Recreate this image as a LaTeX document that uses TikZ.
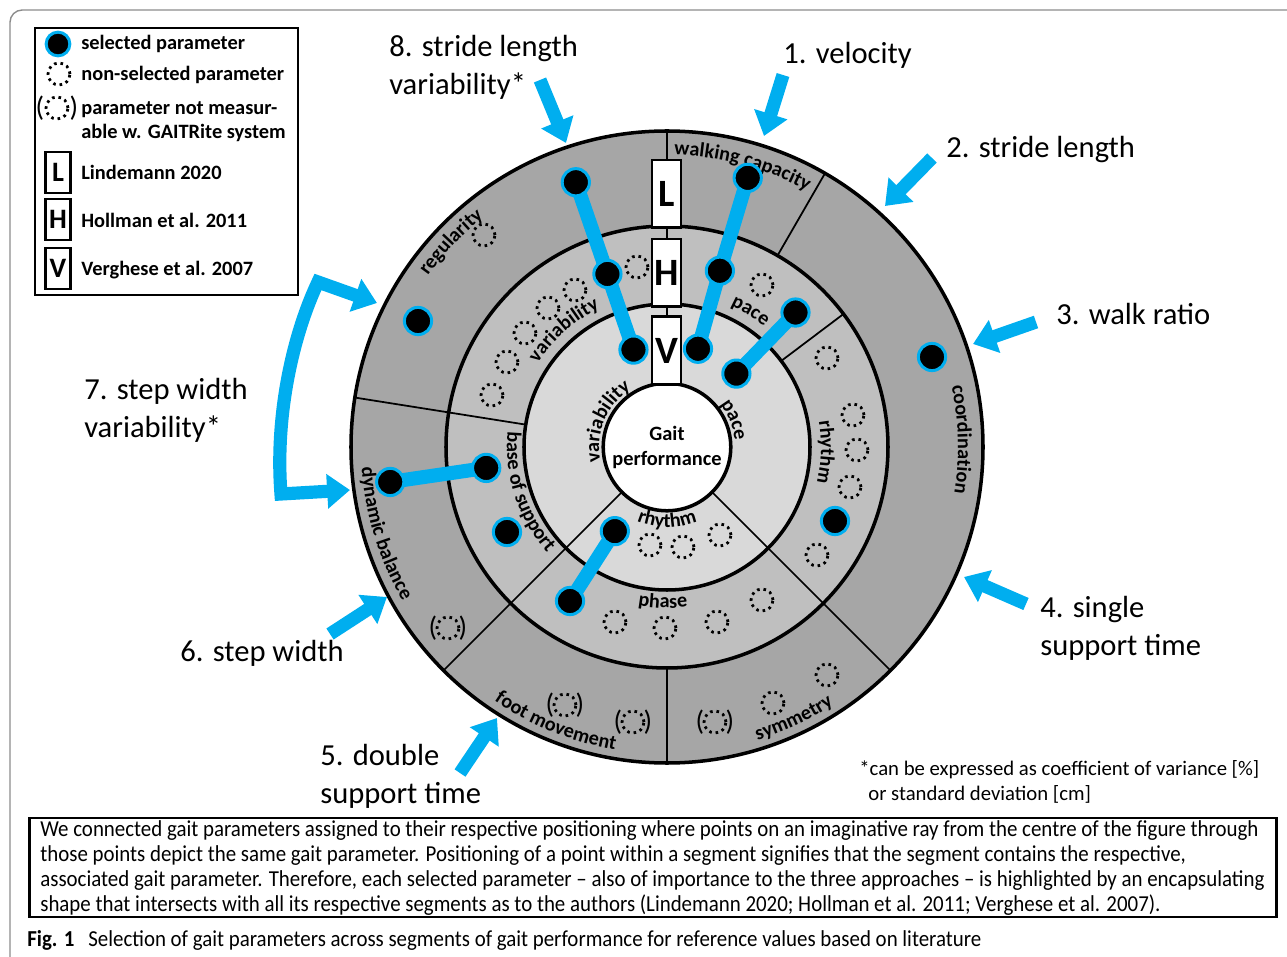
\documentclass[tikz,border=0pt]{standalone}
\usepackage{fontspec}
\setmainfont{Carlito}
\newfontfamily\capfont[FakeStretch=0.915]{Carlito}
\usetikzlibrary{arrows.meta,decorations.text}
\definecolor{gblue}{HTML}{00AEEF}
\definecolor{ringA}{HTML}{A6A6A6}
\definecolor{ringB}{HTML}{BFBFBF}
\definecolor{ringC}{HTML}{D9D9D9}
\definecolor{framegray}{HTML}{8C8C8C}
\newcommand\ringfont{\bfseries\fontsize{11.5}{13}\selectfont}
\newcommand\cwlabel[4]{\path[decorate,decoration={text along path,text align=center,text={|\ringfont|#4}}] (#1+#3:#2) arc[start angle=#1+#3,end angle=#1-#3,radius=#2];}
\newcommand\ccwlabel[4]{\path[decorate,decoration={text along path,text align=center,text={|\ringfont|#4}}] (#1-#3:#2) arc[start angle=#1-#3,end angle=#1+#3,radius=#2];}
\newcommand\nmeas[3]{\node[nsel] (#1) at (#2,#3) {};
  \node[par] (#1l) at (#2-15,#3) {(};
  \node[par] (#1r) at (#2+15,#3) {)};}
\begin{document}
\begin{tikzpicture}[x=0.02cm,y=0.02cm,
  sel/.style={circle,fill=black,draw=gblue,line width=1.7pt,minimum size=15.5pt,inner sep=0pt},
  nsel/.style={circle,draw=black,line width=1.6pt,dash pattern=on 1.5pt off 2.2pt,minimum size=12.5pt,inner sep=0pt},
  par/.style={inner sep=0pt,font=\fontsize{16}{16}\selectfont},
  bigbox/.style={draw=black,fill=white,line width=1.5pt,minimum width=16.4pt,minimum height=38.5pt,inner sep=0pt,font=\bfseries\fontsize{22}{22}\selectfont},
  smallbox/.style={draw=black,fill=white,line width=1.5pt,minimum width=14.2pt,minimum height=23.2pt,inner sep=0pt,font=\bfseries\fontsize{16}{16}\selectfont},
  bline/.style={gblue,line width=8pt},
  barrow/.style={gblue,line width=7.5pt,-{Triangle[width=19pt,length=13pt]}},
  lab/.style={anchor=base west,inner sep=0pt,font=\fontsize{17.4}{21}\selectfont},
  leg/.style={anchor=base west,inner sep=0pt,font=\bfseries\fontsize{11.6}{14}\selectfont},
  foot/.style={anchor=base west,inner sep=0pt,font=\fontsize{11.8}{14}\selectfont},
  capt/.style={anchor=base west,inner sep=0pt,font=\capfont\fontsize{13}{14}\selectfont},
  ring/.style={line width=2pt},
  divider/.style={line width=1pt}]
\useasboundingbox (-667,-509) rectangle (620,447);
% outer frame
\draw[framegray,line width=0.8pt,rounded corners=7pt] (-657,-540) -- (-657,437) -- (660,437);
% rings
\fill[ringA] (0,0) circle[radius=316];
\fill[ringB] (0,0) circle[radius=221];
\fill[ringC] (0,0) circle[radius=143];
% dividers
\draw[divider] (90:64) -- (90:316);
\draw[divider] (60:221) -- (60:316);
\draw[divider] (37:143) -- (37:221);
\draw[divider] (-45:64) -- (-45:316);
\draw[divider] (-90:221) -- (-90:316);
\draw[divider] (-135:64) -- (-135:316);
\draw[divider] (171:143) -- (171:316);
\draw[ring] (0,0) circle[radius=316];
\draw[ring] (0,0) circle[radius=221];
\draw[ring] (0,0) circle[radius=143];
\node[circle,draw=black,fill=white,line width=2pt,minimum size=72.6pt,inner sep=0pt,align=center,font=\bfseries\fontsize{11.6}{14.2}\selectfont] (gp) at (0,0) {Gait\\performance};
% ring labels
\cwlabel{136.5}{294}{25}{regularity}
\cwlabel{75}{292}{25}{walking capacity}
\cwlabel{1.5}{291}{25}{coordination}
\ccwlabel{-65}{307}{25}{symmetry}
\ccwlabel{-112}{307}{25}{foot movement}
\ccwlabel{197}{306}{25}{dynamic balance}
\cwlabel{131.5}{154}{40}{variability}
\cwlabel{58.5}{155}{40}{pace}
\cwlabel{-1.8}{154}{40}{rhythm}
\ccwlabel{198}{160}{40}{base of support}
\ccwlabel{-91.5}{161}{40}{phase}
\cwlabel{157}{68}{60}{variability}
\cwlabel{22}{68}{60}{pace}
\ccwlabel{-90}{80}{60}{rhythm}
% author boxes
\node[bigbox] (bL) at (-0.5,253) {L};
\node[bigbox] (bH) at (-0.5,174) {H};
\node[bigbox] (bV) at (-0.5,96.5) {V};
% selected parameter positions
\coordinate (c8a) at (109:280);
\coordinate (c8b) at (109:183);
\coordinate (c8c) at (109:103);
\coordinate (c1a) at (73.3:281);
\coordinate (c1b) at (73.3:184);
\coordinate (c1c) at (72.5:103);
\coordinate (cpa) at (46.3:186);
\coordinate (cpb) at (46.6:101);
\coordinate (cba) at (186.6:182);
\coordinate (cbb) at (187.2:279);
\coordinate (cra) at (238.2:99);
\coordinate (crb) at (237.8:182);
\draw[bline] (c8a) -- (c8b) -- (c8c);
\draw[bline] (c1a) -- (c1b) -- (c1c);
\draw[bline] (cpa) -- (cpb);
\draw[bline] (cba) -- (cbb);
\draw[bline] (cra) -- (crb);
\node[sel] (s8a) at (c8a) {};
\node[sel] (s8b) at (c8b) {};
\node[sel] (s8c) at (c8c) {};
\node[sel] (s1a) at (c1a) {};
\node[sel] (s1b) at (c1b) {};
\node[sel] (s1c) at (c1c) {};
\node[sel] (spa) at (cpa) {};
\node[sel] (spb) at (cpb) {};
\node[sel] (sba) at (cba) {};
\node[sel] (sbb) at (cbb) {};
\node[sel] (sra) at (cra) {};
\node[sel] (srb) at (crb) {};
\node[sel] (sreg) at (-249,126) {};
\node[sel] (scoo) at (265,90) {};
\node[sel] (sbos) at (-160,-85) {};
\node[sel] (srhy) at (168,-74) {};
% non-selected
\node[nsel] (d1) at (-183,212) {};
\node[nsel] (d2) at (-92,157) {};
\node[nsel] (d3) at (-119,139) {};
\node[nsel] (d4) at (-142,114) {};
\node[nsel] (d5) at (-160,85) {};
\node[nsel] (d6) at (-175,52) {};
\node[nsel] (d7) at (-30,180) {};
\node[nsel] (d8) at (95,162) {};
\node[nsel] (d9) at (160,89) {};
\node[nsel] (d10) at (186,32) {};
\node[nsel] (d11) at (190,-3) {};
\node[nsel] (d12) at (183,-40) {};
\node[nsel] (d13) at (150,-108) {};
\node[nsel] (d14) at (53,-88) {};
\node[nsel] (d15) at (16,-100) {};
\node[nsel] (d16) at (-17,-98) {};
\node[nsel] (d17) at (-52,-175) {};
\node[nsel] (d18) at (-2,-181) {};
\node[nsel] (d19) at (50,-175) {};
\node[nsel] (d20) at (95,-153) {};
\node[nsel] (d21) at (106,-256) {};
\node[nsel] (d22) at (160,-228) {};
\nmeas{n1}{-219}{-181}
\nmeas{n2}{-102}{-258}
\nmeas{n3}{-34}{-275}
\nmeas{n4}{48}{-275}
% arrows
\coordinate (a1s) at (116,372); \coordinate (a1e) at (97,311);
\coordinate (a2s) at (265,289); \coordinate (a2e) at (218,241);
\coordinate (a3s) at (369,125); \coordinate (a3e) at (306,103);
\coordinate (a4s) at (359,-157); \coordinate (a4e) at (297,-130);
\coordinate (a5s) at (-207,-326); \coordinate (a5e) at (-170,-271);
\coordinate (a6s) at (-337,-187); \coordinate (a6e) at (-280,-150);
\coordinate (a8s) at (-127,367); \coordinate (a8e) at (-101,304);
\draw[barrow] (a1s) -- (a1e);
\draw[barrow] (a2s) -- (a2e);
\draw[barrow] (a3s) -- (a3e);
\draw[barrow] (a4s) -- (a4e);
\draw[barrow] (a5s) -- (a5e);
\draw[barrow] (a6s) -- (a6e);
\draw[barrow] (a8s) -- (a8e);
\coordinate (a7t) at (-290,144); \coordinate (a7c) at (-349,165);
\coordinate (a7d) at (-386,-47); \coordinate (a7b) at (-317,-43);
\draw[gblue,line width=7.5pt,line join=miter,{Triangle[width=19pt,length=13pt]}-{Triangle[width=19pt,length=13pt]}] (a7t) -- (a7c) .. controls (-375,110) and (-392,30) .. (a7d) -- (a7b);
% numbered labels
\node[lab] (l1) at (116,383) {1. velocity};
\node[lab] (l2) at (279,289) {2. stride length};
\node[lab] (l3) at (389,122) {3. walk ratio};
\node[lab] (l4a) at (373,-170) {4. single};
\node[lab] (l4b) at (373,-208) {support time};
\node[lab] (l5a) at (-347,-318) {5. double};
\node[lab] (l5b) at (-347,-356) {support time};
\node[lab] (l6) at (-487,-214) {6. step width};
\node[lab] (l7a) at (-583,47) {7. step width};
\node[lab] (l7b) at (-583,9) {variability*};
\node[lab] (l8a) at (-278,390) {8. stride length};
\node[lab] (l8b) at (-278,352) {variability*};
% footnote
\node[foot] (f1) at (192,-328) {*can be expressed as coefficient of variance [\%]};
\node[foot] (f2) at (201,-353) {or standard deviation [cm]};
% legend
\draw[line width=1.5pt] (-632,419) rectangle (-369,152);
\node[sel,minimum size=13.5pt] (lgsel) at (-609,403) {};
\node[nsel] (lgns) at (-608,373) {};
\node[nsel] (lgnm) at (-610,339) {};
\node[par] (lgnml) at (-627,339) {(};
\node[par] (lgnmr) at (-593,339) {)};
\node[smallbox] (lgL) at (-609,274.5) {L};
\node[smallbox] (lgH) at (-609,227.5) {H};
\node[smallbox] (lgV) at (-609,178.5) {V};
\node[leg] (t1) at (-586,397) {selected parameter};
\node[leg] (t2) at (-586,366) {non-selected parameter};
\node[leg] (t3) at (-586,332) {parameter not measur-};
\node[leg] (t4) at (-586,308) {able w. GAITRite system};
\node[leg] (t5) at (-586,267) {Lindemann 2020};
\node[leg] (t6) at (-586,219) {Hollman et al. 2011};
\node[leg] (t7) at (-586,171) {Verghese et al. 2007};
% caption box
\draw[line width=1.7pt] (-637,-371) rectangle (609,-470);
\node[capt] (cp1) at (-627,-389) {We connected gait parameters assigned to their respective positioning where points on an imaginative ray from the centre of the figure through};
\node[capt] (cp2) at (-627,-414) {those points depict the same gait parameter. Positioning of a point within a segment signifies that the segment contains the respective,};
\node[capt] (cp3) at (-627,-439) {associated gait parameter. Therefore, each selected parameter – also of importance to the three approaches – is highlighted by an encapsulating};
\node[capt] (cp4) at (-627,-464) {shape that intersects with all its respective segments as to the authors (Lindemann 2020; Hollman et al. 2011; Verghese et al. 2007).};
\node[capt,font=\capfont\bfseries\fontsize{13}{14}\selectfont] (fig) at (-640,-499) {Fig. 1};
\node[capt] (figt) at (-579,-499) {Selection of gait parameters across segments of gait performance for reference values based on literature};
\end{tikzpicture}
\end{document}
